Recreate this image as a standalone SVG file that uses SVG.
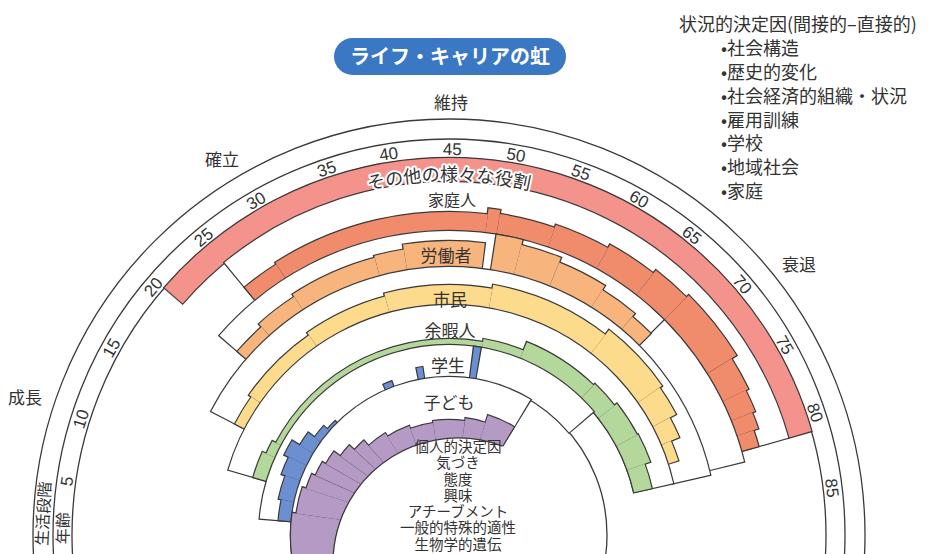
<svg xmlns="http://www.w3.org/2000/svg" width="928" height="554" viewBox="0 0 928 554">
<style>
circle{fill:none}
.ln{stroke:#3a3a3a;stroke-width:1.3}
.k{stroke:#3a3a3a}
.w{stroke:#fff}
.r{stroke:#f4938c}
.h{stroke:#f08b6b}
.o{stroke:#f8b47d}
.y{stroke:#fddb8c}
.g{stroke:#b4d79c}
.b{stroke:#6c8fd2}
.p{stroke:#b49ac4}
text{font-family:"Noto Sans CJK JP","Noto Sans",sans-serif;fill:#333}
.n{font-family:"Liberation Sans",Arial,sans-serif;font-size:17px;text-anchor:middle}
.lb{font-size:17px;text-anchor:middle}
.li{font-size:18px}
.pc{font-size:14.5px;text-anchor:middle}
</style>
<rect width="928" height="554" fill="#fff"/>
<g id="title">
<rect x="334" y="38" width="232" height="37" rx="18.5" fill="#3b78c3"/>
<text x="450" y="63.5" text-anchor="middle" style="font-size:20px;font-weight:bold;fill:#fff">ライフ・キャリアの虹</text>
</g>
<g id="situational">
<text class="li" x="679" y="31">状況的決定因(間接的–直接的)</text>
<text class="li" x="721" y="55">•社会構造</text>
<text class="li" x="721" y="79">•歴史的変化</text>
<text class="li" x="721" y="103">•社会経済的組織・状況</text>
<text class="li" x="721" y="127">•雇用訓練</text>
<text class="li" x="721" y="150">•学校</text>
<text class="li" x="721" y="174">•地域社会</text>
<text class="li" x="721" y="198">•家庭</text>
</g>
<g id="rainbow" transform="translate(449 535)">
<g id="scale">
<circle class="ln" r="416"/>
<circle class="ln" r="396"/>
<circle class="ln" r="377"/>
<circle class="ln" r="158"/>
</g>
<g id="role-other">
<circle class="k" r="365" stroke-width="26.4" pathLength="360" stroke-dasharray="123.38 400" transform="rotate(220.81)"/>
<circle class="r" r="365" stroke-width="24" pathLength="360" stroke-dasharray="123 400" transform="rotate(221)"/>
</g>
<g id="role-homemaker">
<circle class="k" r="328.5" stroke-width="51.4" pathLength="360" stroke-dasharray="113.92 400" transform="rotate(230.29)"/>
<circle class="w" r="328.5" stroke-width="49" pathLength="360" stroke-dasharray="113.5 400" transform="rotate(230.5)"/>
<circle class="k" r="312.5" stroke-width="19.4" pathLength="360" stroke-dasharray="7.44 400" transform="rotate(230.28)"/>
<circle class="k" r="313.5" stroke-width="21.4" pathLength="360" stroke-dasharray="39.84 400" transform="rotate(237.28)"/>
<circle class="k" r="316.5" stroke-width="27.4" pathLength="360" stroke-dasharray="2.54 400" transform="rotate(276.68)"/>
<circle class="k" r="314.5" stroke-width="23.4" pathLength="360" stroke-dasharray="10.44 400" transform="rotate(278.78)"/>
<circle class="k" r="316" stroke-width="26.4" pathLength="360" stroke-dasharray="10.44 400" transform="rotate(288.78)"/>
<circle class="k" r="318" stroke-width="30.4" pathLength="360" stroke-dasharray="9.44 400" transform="rotate(298.78)"/>
<circle class="k" r="320" stroke-width="34.4" pathLength="360" stroke-dasharray="7.44 400" transform="rotate(307.78)"/>
<circle class="k" r="321.5" stroke-width="37.4" pathLength="360" stroke-dasharray="13.44 400" transform="rotate(314.78)"/>
<circle class="k" r="318.5" stroke-width="31.4" pathLength="360" stroke-dasharray="6.44 400" transform="rotate(327.78)"/>
<circle class="k" r="317" stroke-width="28.4" pathLength="360" stroke-dasharray="4.44 400" transform="rotate(333.78)"/>
<circle class="k" r="315.5" stroke-width="25.4" pathLength="360" stroke-dasharray="3.44 400" transform="rotate(337.78)"/>
<circle class="k" r="313" stroke-width="20.4" pathLength="360" stroke-dasharray="3.44 400" transform="rotate(340.78)"/>
<circle class="h" r="312.5" stroke-width="17" pathLength="360" stroke-dasharray="7 400" transform="rotate(230.5)"/>
<circle class="h" r="313.5" stroke-width="19" pathLength="360" stroke-dasharray="39.4 400" transform="rotate(237.5)"/>
<circle class="h" r="316.5" stroke-width="25" pathLength="360" stroke-dasharray="2.1 400" transform="rotate(276.9)"/>
<circle class="h" r="314.5" stroke-width="21" pathLength="360" stroke-dasharray="10 400" transform="rotate(279)"/>
<circle class="h" r="316" stroke-width="24" pathLength="360" stroke-dasharray="10 400" transform="rotate(289)"/>
<circle class="h" r="318" stroke-width="28" pathLength="360" stroke-dasharray="9 400" transform="rotate(299)"/>
<circle class="h" r="320" stroke-width="32" pathLength="360" stroke-dasharray="7 400" transform="rotate(308)"/>
<circle class="h" r="321.5" stroke-width="35" pathLength="360" stroke-dasharray="13 400" transform="rotate(315)"/>
<circle class="h" r="318.5" stroke-width="29" pathLength="360" stroke-dasharray="6 400" transform="rotate(328)"/>
<circle class="h" r="317" stroke-width="26" pathLength="360" stroke-dasharray="4 400" transform="rotate(334)"/>
<circle class="h" r="315.5" stroke-width="23" pathLength="360" stroke-dasharray="3 400" transform="rotate(338)"/>
<circle class="h" r="313" stroke-width="18" pathLength="360" stroke-dasharray="3 400" transform="rotate(341)"/>
</g>
<g id="role-worker">
<circle class="k" r="286" stroke-width="38.4" pathLength="360" stroke-dasharray="125.5 400" transform="rotate(220.75)"/>
<circle class="w" r="286" stroke-width="36" pathLength="360" stroke-dasharray="125 400" transform="rotate(221)"/>
<circle class="k" r="286" stroke-width="38.4" pathLength="360" stroke-dasharray="0.26 400" transform="rotate(314.87)"/>
<circle class="k" r="274" stroke-width="14.4" pathLength="360" stroke-dasharray="7.5 400" transform="rotate(220.75)"/>
<circle class="k" r="276" stroke-width="18.4" pathLength="360" stroke-dasharray="9.5 400" transform="rotate(227.75)"/>
<circle class="k" r="277.5" stroke-width="21.4" pathLength="360" stroke-dasharray="18.5 400" transform="rotate(236.75)"/>
<circle class="k" r="278.5" stroke-width="23.4" pathLength="360" stroke-dasharray="6.5 400" transform="rotate(254.75)"/>
<circle class="k" r="281" stroke-width="28.4" pathLength="360" stroke-dasharray="16.5 400" transform="rotate(260.75)"/>
<circle class="k" r="286" stroke-width="38.4" pathLength="360" stroke-dasharray="5.5 400" transform="rotate(278.75)"/>
<circle class="k" r="283.5" stroke-width="33.4" pathLength="360" stroke-dasharray="8.5 400" transform="rotate(283.75)"/>
<circle class="k" r="281" stroke-width="28.4" pathLength="360" stroke-dasharray="10.5 400" transform="rotate(291.75)"/>
<circle class="k" r="278.5" stroke-width="23.4" pathLength="360" stroke-dasharray="8.5 400" transform="rotate(301.75)"/>
<circle class="k" r="276.5" stroke-width="19.4" pathLength="360" stroke-dasharray="5.5 400" transform="rotate(309.75)"/>
<circle class="o" r="274" stroke-width="12" pathLength="360" stroke-dasharray="7 400" transform="rotate(221)"/>
<circle class="o" r="276" stroke-width="16" pathLength="360" stroke-dasharray="9 400" transform="rotate(228)"/>
<circle class="o" r="277.5" stroke-width="19" pathLength="360" stroke-dasharray="18 400" transform="rotate(237)"/>
<circle class="o" r="278.5" stroke-width="21" pathLength="360" stroke-dasharray="6 400" transform="rotate(255)"/>
<circle class="o" r="281" stroke-width="26" pathLength="360" stroke-dasharray="16 400" transform="rotate(261)"/>
<circle class="o" r="286" stroke-width="36" pathLength="360" stroke-dasharray="5 400" transform="rotate(279)"/>
<circle class="o" r="283.5" stroke-width="31" pathLength="360" stroke-dasharray="8 400" transform="rotate(284)"/>
<circle class="o" r="281" stroke-width="26" pathLength="360" stroke-dasharray="10 400" transform="rotate(292)"/>
<circle class="o" r="278.5" stroke-width="21" pathLength="360" stroke-dasharray="8 400" transform="rotate(302)"/>
<circle class="o" r="276.5" stroke-width="17" pathLength="360" stroke-dasharray="5 400" transform="rotate(310)"/>
</g>
<g id="role-citizen">
<circle class="k" r="249" stroke-width="40.4" pathLength="360" stroke-dasharray="140.06 400" transform="rotate(207.22)"/>
<circle class="w" r="249" stroke-width="38" pathLength="360" stroke-dasharray="139.5 400" transform="rotate(207.5)"/>
<circle class="k" r="235.5" stroke-width="13.4" pathLength="360" stroke-dasharray="8.08 400" transform="rotate(207.21)"/>
<circle class="k" r="237" stroke-width="16.4" pathLength="360" stroke-dasharray="20.58 400" transform="rotate(214.71)"/>
<circle class="k" r="238.5" stroke-width="19.4" pathLength="360" stroke-dasharray="20.58 400" transform="rotate(234.71)"/>
<circle class="k" r="240" stroke-width="22.4" pathLength="360" stroke-dasharray="25.58 400" transform="rotate(254.71)"/>
<circle class="k" r="242" stroke-width="26.4" pathLength="360" stroke-dasharray="28.58 400" transform="rotate(279.71)"/>
<circle class="k" r="245" stroke-width="32.4" pathLength="360" stroke-dasharray="17.58 400" transform="rotate(307.71)"/>
<circle class="k" r="243.5" stroke-width="29.4" pathLength="360" stroke-dasharray="7.58 400" transform="rotate(324.71)"/>
<circle class="k" r="240" stroke-width="22.4" pathLength="360" stroke-dasharray="5.58 400" transform="rotate(331.71)"/>
<circle class="k" r="235.5" stroke-width="13.4" pathLength="360" stroke-dasharray="5.58 400" transform="rotate(336.71)"/>
<circle class="y" r="235.5" stroke-width="11" pathLength="360" stroke-dasharray="7.5 400" transform="rotate(207.5)"/>
<circle class="y" r="237" stroke-width="14" pathLength="360" stroke-dasharray="20 400" transform="rotate(215)"/>
<circle class="y" r="238.5" stroke-width="17" pathLength="360" stroke-dasharray="20 400" transform="rotate(235)"/>
<circle class="y" r="240" stroke-width="20" pathLength="360" stroke-dasharray="25 400" transform="rotate(255)"/>
<circle class="y" r="242" stroke-width="24" pathLength="360" stroke-dasharray="28 400" transform="rotate(280)"/>
<circle class="y" r="245" stroke-width="30" pathLength="360" stroke-dasharray="17 400" transform="rotate(308)"/>
<circle class="y" r="243.5" stroke-width="27" pathLength="360" stroke-dasharray="7 400" transform="rotate(325)"/>
<circle class="y" r="240" stroke-width="20" pathLength="360" stroke-dasharray="5 400" transform="rotate(332)"/>
<circle class="y" r="235.5" stroke-width="11" pathLength="360" stroke-dasharray="5 400" transform="rotate(337)"/>
</g>
<g id="role-leisurite">
<circle class="k" r="210" stroke-width="42.4" pathLength="360" stroke-dasharray="151.16 400" transform="rotate(196.17)"/>
<circle class="w" r="210" stroke-width="40" pathLength="360" stroke-dasharray="150.5 400" transform="rotate(196.5)"/>
<circle class="k" r="197" stroke-width="16.4" pathLength="360" stroke-dasharray="8.2 400" transform="rotate(196.15)"/>
<circle class="k" r="195" stroke-width="12.4" pathLength="360" stroke-dasharray="4.7 400" transform="rotate(203.65)"/>
<circle class="k" r="193" stroke-width="8.4" pathLength="360" stroke-dasharray="72.7 400" transform="rotate(207.65)"/>
<circle class="k" r="194.5" stroke-width="11.4" pathLength="360" stroke-dasharray="12.7 400" transform="rotate(279.65)"/>
<circle class="k" r="199" stroke-width="20.4" pathLength="360" stroke-dasharray="22.7 400" transform="rotate(291.65)"/>
<circle class="k" r="200" stroke-width="22.4" pathLength="360" stroke-dasharray="8.7 400" transform="rotate(313.65)"/>
<circle class="k" r="201.5" stroke-width="25.4" pathLength="360" stroke-dasharray="10.7 400" transform="rotate(321.65)"/>
<circle class="k" r="202" stroke-width="26.4" pathLength="360" stroke-dasharray="8.7 400" transform="rotate(331.65)"/>
<circle class="k" r="199" stroke-width="20.4" pathLength="360" stroke-dasharray="7.7 400" transform="rotate(339.65)"/>
<circle class="g" r="197" stroke-width="14" pathLength="360" stroke-dasharray="7.5 400" transform="rotate(196.5)"/>
<circle class="g" r="195" stroke-width="10" pathLength="360" stroke-dasharray="4 400" transform="rotate(204)"/>
<circle class="g" r="193" stroke-width="6" pathLength="360" stroke-dasharray="72 400" transform="rotate(208)"/>
<circle class="g" r="194.5" stroke-width="9" pathLength="360" stroke-dasharray="12 400" transform="rotate(280)"/>
<circle class="g" r="199" stroke-width="18" pathLength="360" stroke-dasharray="22 400" transform="rotate(292)"/>
<circle class="g" r="200" stroke-width="20" pathLength="360" stroke-dasharray="8 400" transform="rotate(314)"/>
<circle class="g" r="201.5" stroke-width="23" pathLength="360" stroke-dasharray="10 400" transform="rotate(322)"/>
<circle class="g" r="202" stroke-width="24" pathLength="360" stroke-dasharray="8 400" transform="rotate(332)"/>
<circle class="g" r="199" stroke-width="18" pathLength="360" stroke-dasharray="7 400" transform="rotate(340)"/>
</g>
<g id="role-student">
<circle class="k" r="174" stroke-width="34.4" pathLength="360" stroke-dasharray="135.3 400" transform="rotate(184.6)"/>
<circle class="w" r="174" stroke-width="32" pathLength="360" stroke-dasharray="134.5 400" transform="rotate(185)"/>
<circle class="k" r="164.5" stroke-width="15.4" pathLength="360" stroke-dasharray="7.84 400" transform="rotate(184.58)"/>
<circle class="k" r="166" stroke-width="18.4" pathLength="360" stroke-dasharray="8.84 400" transform="rotate(191.58)"/>
<circle class="k" r="168" stroke-width="22.4" pathLength="360" stroke-dasharray="6.84 400" transform="rotate(199.58)"/>
<circle class="k" r="170.5" stroke-width="27.4" pathLength="360" stroke-dasharray="5.84 400" transform="rotate(205.58)"/>
<circle class="k" r="166" stroke-width="18.4" pathLength="360" stroke-dasharray="5.84 400" transform="rotate(210.58)"/>
<circle class="k" r="162" stroke-width="10.4" pathLength="360" stroke-dasharray="5.84 400" transform="rotate(215.58)"/>
<circle class="k" r="159.5" stroke-width="5.4" pathLength="360" stroke-dasharray="4.84 400" transform="rotate(220.58)"/>
<circle class="k" r="161" stroke-width="8.4" pathLength="360" stroke-dasharray="3.84 400" transform="rotate(246.08)"/>
<circle class="k" r="164" stroke-width="14.4" pathLength="360" stroke-dasharray="2.84 400" transform="rotate(258.58)"/>
<circle class="k" r="174" stroke-width="34.4" pathLength="360" stroke-dasharray="2.84 400" transform="rotate(277.18)"/>
<circle class="b" r="164.5" stroke-width="13" pathLength="360" stroke-dasharray="7 400" transform="rotate(185)"/>
<circle class="b" r="166" stroke-width="16" pathLength="360" stroke-dasharray="8 400" transform="rotate(192)"/>
<circle class="b" r="168" stroke-width="20" pathLength="360" stroke-dasharray="6 400" transform="rotate(200)"/>
<circle class="b" r="170.5" stroke-width="25" pathLength="360" stroke-dasharray="5 400" transform="rotate(206)"/>
<circle class="b" r="166" stroke-width="16" pathLength="360" stroke-dasharray="5 400" transform="rotate(211)"/>
<circle class="b" r="162" stroke-width="8" pathLength="360" stroke-dasharray="5 400" transform="rotate(216)"/>
<circle class="b" r="159.5" stroke-width="3" pathLength="360" stroke-dasharray="4 400" transform="rotate(221)"/>
<circle class="b" r="161" stroke-width="6" pathLength="360" stroke-dasharray="3 400" transform="rotate(246.5)"/>
<circle class="b" r="164" stroke-width="12" pathLength="360" stroke-dasharray="2 400" transform="rotate(259)"/>
<circle class="b" r="174" stroke-width="32" pathLength="360" stroke-dasharray="2 400" transform="rotate(277.6)"/>
</g>
<g id="role-child">
<circle class="k" r="109" stroke-width="100.4" pathLength="360" stroke-dasharray="142 400" transform="rotate(159.5)"/>
<circle class="w" r="109" stroke-width="98" pathLength="360" stroke-dasharray="141 400" transform="rotate(160)"/>
<circle class="k" r="109" stroke-width="100.4" pathLength="360" stroke-dasharray="29 400" transform="rotate(159.5)"/>
<circle class="k" r="107" stroke-width="96.4" pathLength="360" stroke-dasharray="11 400" transform="rotate(187.5)"/>
<circle class="k" r="105" stroke-width="92.4" pathLength="360" stroke-dasharray="7 400" transform="rotate(197.5)"/>
<circle class="k" r="103" stroke-width="88.4" pathLength="360" stroke-dasharray="7 400" transform="rotate(203.5)"/>
<circle class="k" r="101" stroke-width="84.4" pathLength="360" stroke-dasharray="7 400" transform="rotate(209.5)"/>
<circle class="k" r="97" stroke-width="76.4" pathLength="360" stroke-dasharray="7 400" transform="rotate(215.5)"/>
<circle class="k" r="93.5" stroke-width="69.4" pathLength="360" stroke-dasharray="7 400" transform="rotate(221.5)"/>
<circle class="k" r="90" stroke-width="62.4" pathLength="360" stroke-dasharray="11 400" transform="rotate(227.5)"/>
<circle class="k" r="88" stroke-width="58.4" pathLength="360" stroke-dasharray="13 400" transform="rotate(237.5)"/>
<circle class="k" r="86.5" stroke-width="55.4" pathLength="360" stroke-dasharray="13 400" transform="rotate(249.5)"/>
<circle class="k" r="87.5" stroke-width="57.4" pathLength="360" stroke-dasharray="17 400" transform="rotate(261.5)"/>
<circle class="k" r="89" stroke-width="60.4" pathLength="360" stroke-dasharray="11 400" transform="rotate(277.5)"/>
<circle class="k" r="93" stroke-width="68.4" pathLength="360" stroke-dasharray="14 400" transform="rotate(287.5)"/>
<circle class="p" r="109" stroke-width="98" pathLength="360" stroke-dasharray="28 400" transform="rotate(160)"/>
<circle class="p" r="107" stroke-width="94" pathLength="360" stroke-dasharray="10 400" transform="rotate(188)"/>
<circle class="p" r="105" stroke-width="90" pathLength="360" stroke-dasharray="6 400" transform="rotate(198)"/>
<circle class="p" r="103" stroke-width="86" pathLength="360" stroke-dasharray="6 400" transform="rotate(204)"/>
<circle class="p" r="101" stroke-width="82" pathLength="360" stroke-dasharray="6 400" transform="rotate(210)"/>
<circle class="p" r="97" stroke-width="74" pathLength="360" stroke-dasharray="6 400" transform="rotate(216)"/>
<circle class="p" r="93.5" stroke-width="67" pathLength="360" stroke-dasharray="6 400" transform="rotate(222)"/>
<circle class="p" r="90" stroke-width="60" pathLength="360" stroke-dasharray="10 400" transform="rotate(228)"/>
<circle class="p" r="88" stroke-width="56" pathLength="360" stroke-dasharray="12 400" transform="rotate(238)"/>
<circle class="p" r="86.5" stroke-width="53" pathLength="360" stroke-dasharray="12 400" transform="rotate(250)"/>
<circle class="p" r="87.5" stroke-width="55" pathLength="360" stroke-dasharray="16 400" transform="rotate(262)"/>
<circle class="p" r="89" stroke-width="58" pathLength="360" stroke-dasharray="10 400" transform="rotate(278)"/>
<circle class="p" r="93" stroke-width="66" pathLength="360" stroke-dasharray="13 400" transform="rotate(288)"/>
<circle cx="9" cy="28" r="125" style="fill:#fff"/>
<circle class="ln" cx="9" cy="28" r="125" pathLength="360" stroke-dasharray="120.8 400" transform="rotate(170 9 28)"/>
</g>
<g id="ages">
<text class="n" y="-386" dy="0.35em" transform="rotate(-82)">5</text>
<text class="n" y="-386" dy="0.35em" transform="rotate(-72.5)">10</text>
<text class="n" y="-386" dy="0.35em" transform="rotate(-61)">15</text>
<text class="n" y="-386" dy="0.35em" transform="rotate(-50)">20</text>
<text class="n" y="-386" dy="0.35em" transform="rotate(-39.5)">25</text>
<text class="n" y="-386" dy="0.35em" transform="rotate(-30)">30</text>
<text class="n" y="-386" dy="0.35em" transform="rotate(-18.5)">35</text>
<text class="n" y="-386" dy="0.35em" transform="rotate(-9)">40</text>
<text class="n" y="-386" dy="0.35em" transform="rotate(0.5)">45</text>
<text class="n" y="-386" dy="0.35em" transform="rotate(10)">50</text>
<text class="n" y="-386" dy="0.35em" transform="rotate(20)">55</text>
<text class="n" y="-386" dy="0.35em" transform="rotate(29.5)">60</text>
<text class="n" y="-386" dy="0.35em" transform="rotate(39)">65</text>
<text class="n" y="-386" dy="0.35em" transform="rotate(49.5)">70</text>
<text class="n" y="-386" dy="0.35em" transform="rotate(60.5)">75</text>
<text class="n" y="-386" dy="0.35em" transform="rotate(71.5)">80</text>
<text class="n" y="-386" dy="0.35em" transform="rotate(83)">85</text>
<text y="-386" dy="0.35em" transform="rotate(-89)" style="font-size:16px;text-anchor:middle">年齢</text>
<text y="-406" dy="0.35em" transform="rotate(-87)" style="font-size:16px;text-anchor:middle">生活段階</text>
</g>
</g>
<g id="stage-labels">
<text class="lb" x="25" y="404">成長</text>
<text class="lb" x="222" y="166">確立</text>
<text class="lb" x="451" y="109">維持</text>
<text class="lb" x="799" y="271">衰退</text>
</g>
<g id="role-labels">
<defs><path id="arcOther" d="M245.9,245 A354,354 0 0 1 652.1,245"/></defs>
<text style="font-size:18px;stroke:#fff;stroke-width:4;paint-order:stroke;stroke-linejoin:round"><textPath href="#arcOther" startOffset="50%" text-anchor="middle">その他の様々な役割</textPath></text>
<text class="lb" x="452" y="206" style="font-size:16px">家庭人</text>
<text class="lb" x="446" y="262">労働者</text>
<text class="lb" x="450" y="306">市民</text>
<text class="lb" x="450" y="337">余暇人</text>
<text class="lb" x="448" y="372">学生</text>
<text class="lb" x="449" y="409">子ども</text>
</g>
<g id="personal">
<text class="pc" x="458" y="452">個人的決定因</text>
<text class="pc" x="458" y="468">気づき</text>
<text class="pc" x="458" y="485">態度</text>
<text class="pc" x="458" y="501">興味</text>
<text class="pc" x="458" y="517">アチーブメント</text>
<text class="pc" x="458" y="533">一般的特殊的適性</text>
<text class="pc" x="458" y="550">生物学的遺伝</text>
</g>
</svg>
